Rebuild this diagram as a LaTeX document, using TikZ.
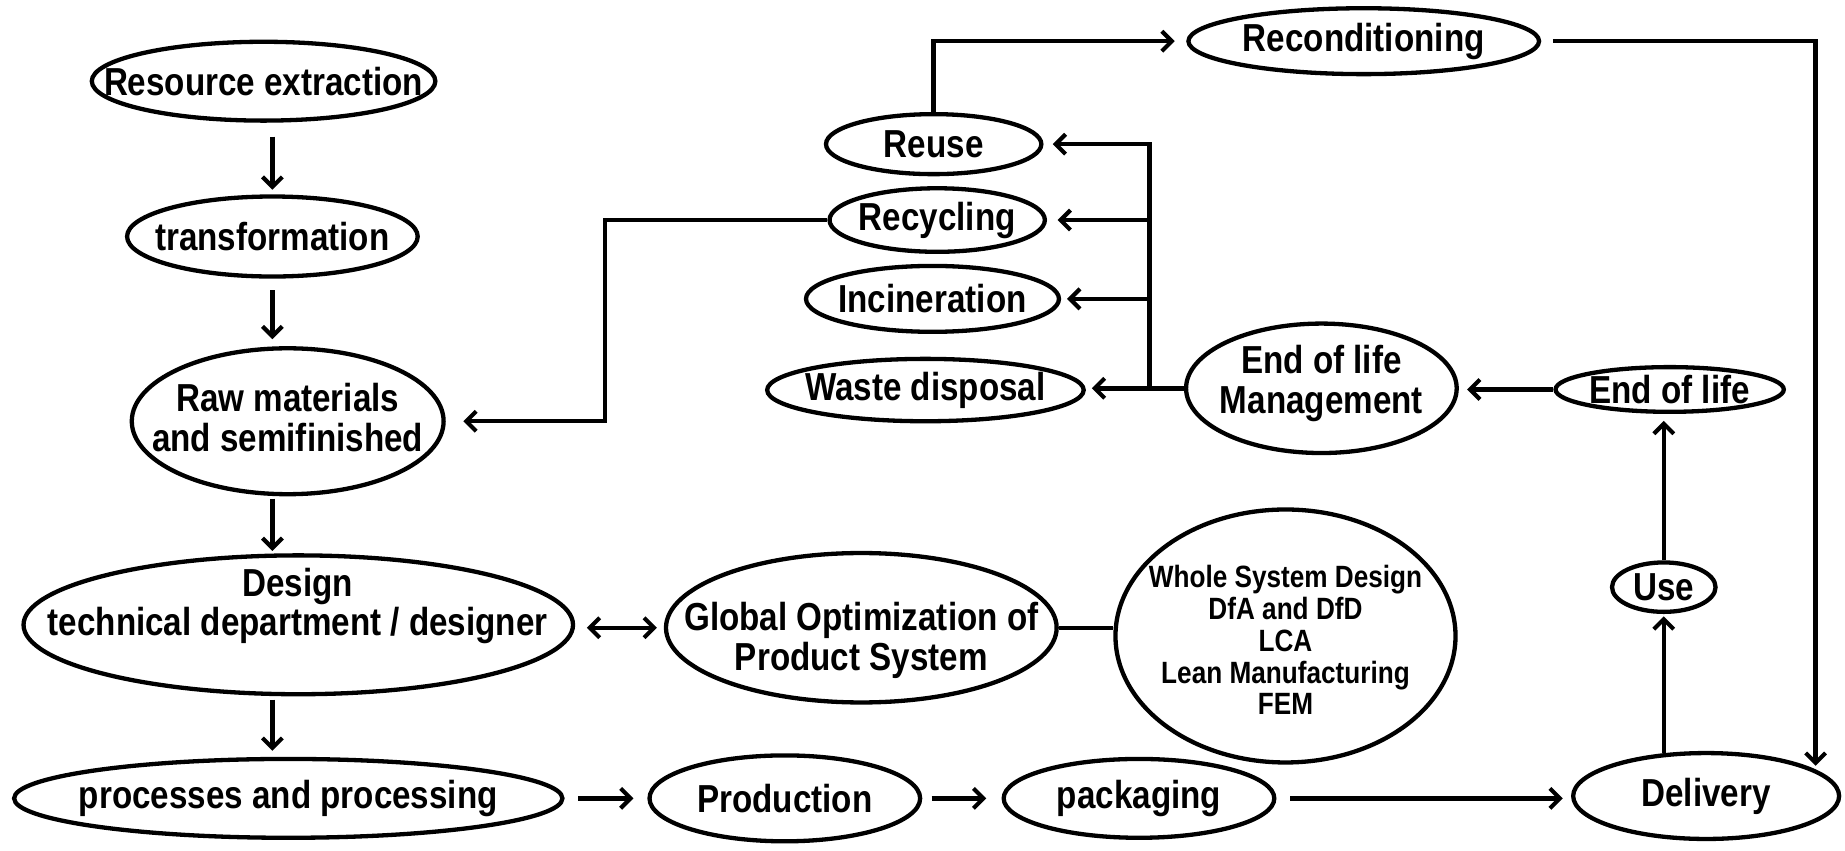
\documentclass[tikz,border=0pt]{standalone}
\usepackage{fontspec}
\newfontfamily\labfont{Liberation Sans}[FakeStretch=0.85]
\usetikzlibrary{shapes.geometric, arrows.meta}

\begin{document}
\begin{tikzpicture}[x=0.0125cm, y=-0.0125cm,
  ell/.style 2 args={draw, ellipse, line width=1.3pt, inner sep=0pt,
    minimum width=#1*0.0125cm, minimum height=#2*0.0125cm},
  txt/.style={font=\labfont\bfseries\fontsize{11.8}{12}\selectfont, align=center, inner sep=0pt},
  smalltxt/.style={font=\labfont\bfseries\fontsize{9.3}{9.6}\selectfont, align=center, inner sep=0pt},
  link/.style={line width=1.35pt, line join=miter},
  barb/.tip={Straight Barb[length=3pt, width=6pt, line width=1.25pt]},
  arr/.style={link, -barb},
  dbl/.style={link, barb-barb},
]
\useasboundingbox (0,0) rectangle (1568,723);

% ---- left column: material flow
\node[ell={292}{67}]  (res)    at (224,69)     {};
\node[ell={247}{68}]  (trans)  at (231.5,201)  {};
\node[ell={265}{124}] (raw)    at (244.5,358)  {};
\node[ell={467}{118}] (design) at (253.5,531)  {};
\node[ell={466}{67}]  (proc)   at (245,678.5)  {};

% ---- bottom row
\node[ell={230}{73}]  (prod)   at (667,678.5)  {};
\node[ell={230}{67}]  (pack)   at (968,678.5)  {};
\node[ell={226}{73}]  (deliv)  at (1450,676.5) {};

% ---- use and end of life
\node[ell={88}{42}]   (use)    at (1414,499)   {};
\node[ell={194}{38}]  (eol)    at (1419,331)   {};
\node[ell={230}{110}] (eolm)   at (1123,330)   {};

% ---- end of life options
\node[ell={269}{53}]  (waste)  at (786.5,331.5) {};
\node[ell={183}{51}]  (reuse)  at (793.5,122.5) {};
\node[ell={183}{54}]  (recyc)  at (796.5,187)   {};
\node[ell={215}{56}]  (incin)  at (792.5,254)   {};
\node[ell={298}{56}]  (recond) at (1159,35)     {};

% ---- design optimisation
\node[ell={332}{127}] (glob)   at (732,533.5)  {};
\node[ell={289}{215}] (whole)  at (1092.5,540.5) {};

% ---- texts
\node[txt] (res-t)    at (res)    {Resource extraction};
\node[txt] (trans-t)  at (trans)  {transformation};
\node[txt] (raw-t)    at (244.5,355) {Raw materials\\and semifinished};
\node[txt] (design-t) at (253,515) {Design\\technical department / designer};
\node[txt] (proc-t)   at (proc)   {processes and processing};
\node[txt] (prod-t)   at (prod)   {Production};
\node[txt] (pack-t)   at (pack)   {packaging};
\node[txt] (deliv-t)  at (deliv)  {Delivery};
\node[txt] (use-t)    at (use)    {Use};
\node[txt] (eol-t)    at (eol)    {End of life};
\node[txt] (eolm-t)   at (1123,326) {End of life\\Management};
\node[txt] (waste-t)  at (waste)  {Waste disposal};
\node[txt] (reuse-t)  at (reuse)  {Reuse};
\node[txt] (recyc-t)  at (recyc)  {Recycling};
\node[txt] (incin-t)  at (incin)  {Incineration};
\node[txt] (recond-t) at (recond) {Reconditioning};
\node[txt] (glob-t)   at (732,544) {Global Optimization of\\Product System};
\node[smalltxt] (whole-t) at (1092.5,544) {Whole System Design\\DfA and DfD\\LCA\\Lean Manufacturing\\FEM};

% ---- connectors: left column
\draw[arr, shorten <=4.2pt, shorten >=1.4pt] (res.south -| trans.north) -- (trans.north);
\draw[arr, shorten <=3.5pt, shorten >=2.1pt] (trans.south) -- (trans.south |- raw.north);
\draw[arr, shorten <=0.7pt, shorten >=0.7pt] (raw.south -| trans.south) -- (design.north -| trans.south);
\draw[arr, shorten <=1pt, shorten >=1.8pt] (design.south -| trans.south) -- (proc.north -| trans.south);

% ---- connectors: bottom row
\draw[arr, shorten <=4.2pt, shorten >=4.2pt] (proc.east) -- (prod.west);
\draw[arr, shorten <=2.8pt, shorten >=4.6pt] (prod.east) -- (pack.west);
\draw[arr, shorten <=4.2pt, shorten >=2.5pt] (pack.east) -- (pack.east -| deliv.west);

% ---- delivery, use, end of life
\draw[arr, shorten >=0.7pt] (deliv.136 -| use.south) -- (use.south);
\draw[arr, shorten >=2.1pt] (use.north) -- (use.north |- eol.south);
\draw[arr, shorten >=2.5pt] (eol.west) -- (eol.west -| eolm.east);
\draw[arr, shorten >=1.8pt] (eolm.west) -- (eolm.west -| waste.east);

% ---- branching trunk to the end of life options
\coordinate (jt) at (977,330);
\draw[arr, shorten >=2.8pt] (jt) -- (jt |- reuse.east) -- (reuse.east);
\draw[arr, shorten >=3.2pt] (jt |- recyc.east) -- (recyc.east);
\draw[arr, shorten >=1.8pt] (jt |- incin.east) -- (incin.east);

% ---- recycling back to raw materials
\coordinate (rbend) at (514,187);
\draw[arr, shorten >=5.3pt] (recyc.west) -- (rbend) |- (raw.east);

% ---- reuse via reconditioning to delivery
\draw[arr, shorten >=3.5pt] (reuse.north) |- (recond.west);
\coordinate (rcorner) at (1543,35);
\draw[arr, shorten <=3.5pt, shorten >=1.8pt] (recond.east) -- (rcorner) -- (rcorner |- deliv.12.5);

% ---- design optimisation
\draw[dbl, shorten <=3.5pt, shorten >=2.1pt] (glob.west -| design.east) -- (glob.west);
\draw[link] (glob.east) -- (glob.east -| whole.west);

\end{tikzpicture}
\end{document}
